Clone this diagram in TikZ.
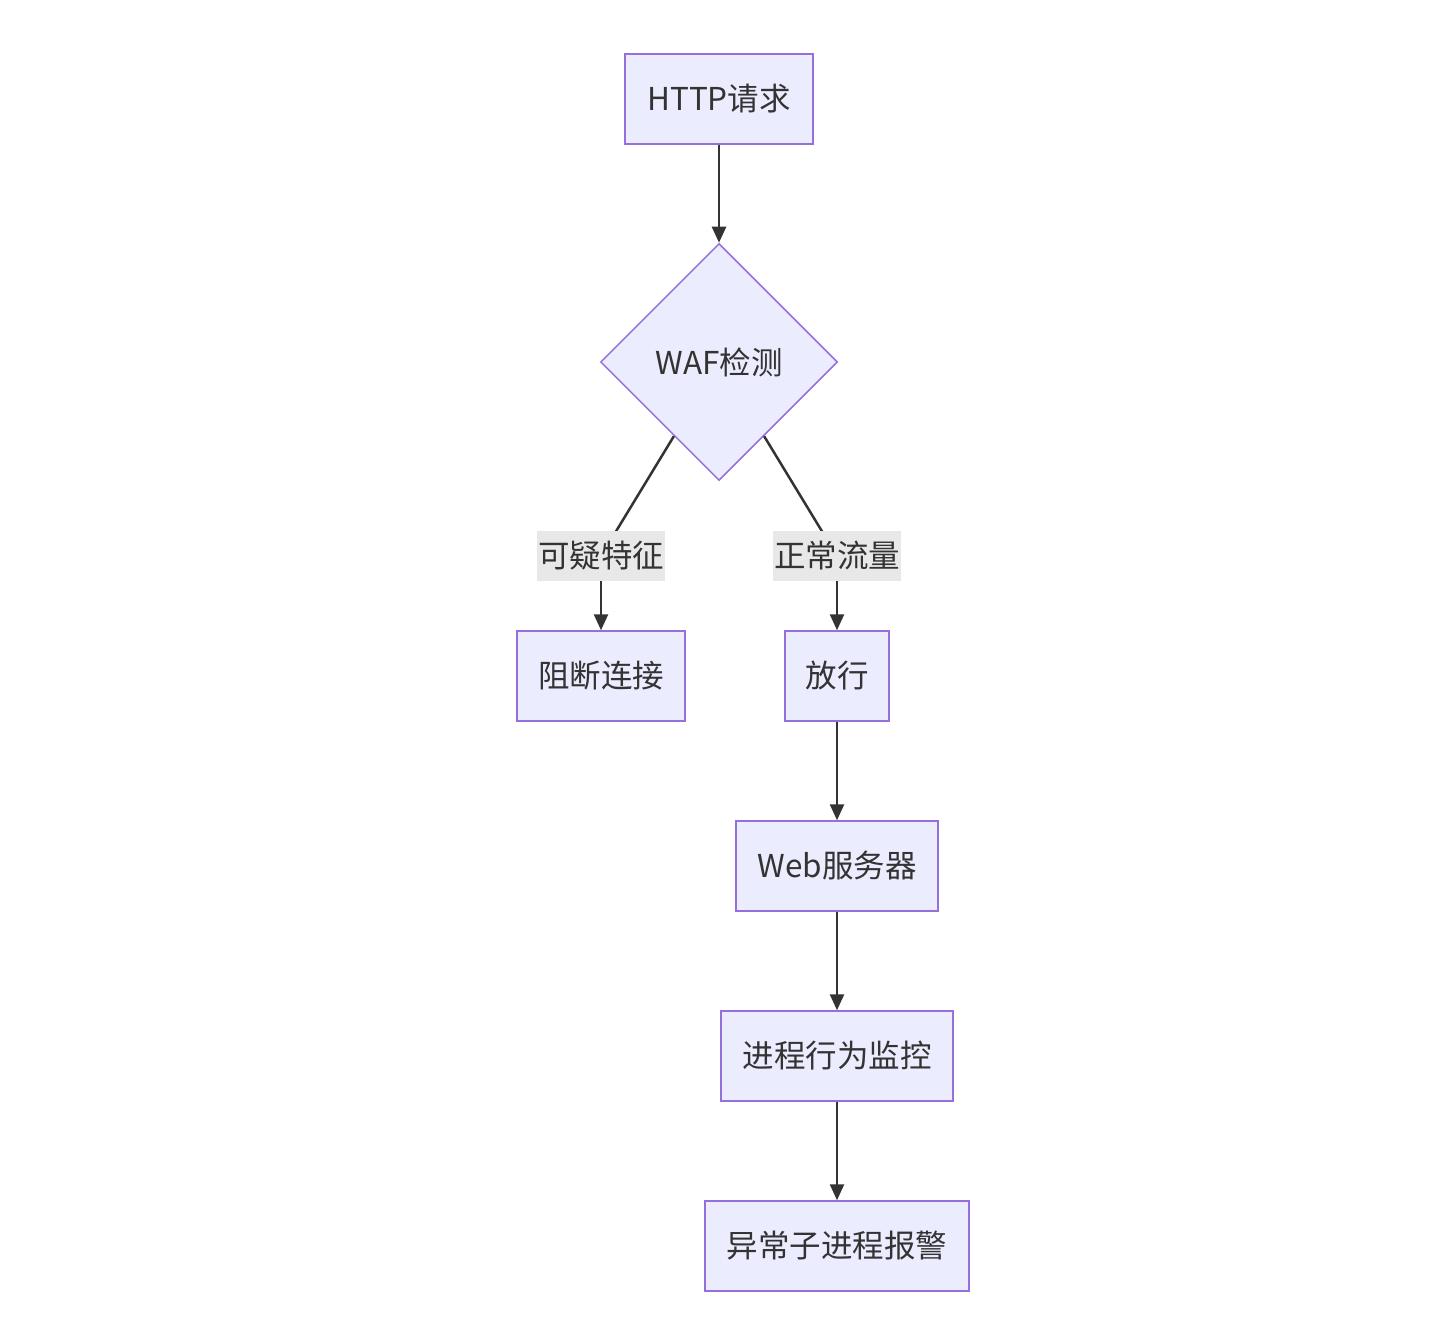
\documentclass[tikz,border=0pt]{standalone}
\usepackage{fontspec}
\setmainfont{Noto Sans CJK SC}
\usetikzlibrary{shapes.geometric,arrows.meta}
\definecolor{nodefill}{HTML}{ECECFF}
\definecolor{nodeline}{HTML}{9370DB}
\definecolor{edgecol}{HTML}{333333}
\definecolor{labelbg}{HTML}{E8E8E8}
\begin{document}
\begin{tikzpicture}[x=1pt,y=-1pt,
  font=\fontsize{31.5}{38}\selectfont,
  procbox/.style={draw=nodeline,fill=nodefill,line width=1.5pt,minimum height=90pt,inner sep=0pt,text=edgecol},
  decision/.style={diamond,aspect=1,draw=nodeline,fill=nodefill,line width=1.5pt,minimum width=237pt,minimum height=237pt,inner sep=0pt,text=edgecol},
  edgelabel/.style={fill=labelbg,minimum width=128pt,minimum height=50pt,inner sep=0pt,text=edgecol},
  flow/.style={draw=edgecol,line width=2.5pt,-{Triangle[length=16pt,width=14pt]}},
  plainflow/.style={draw=edgecol,line width=2.5pt}]
\useasboundingbox (0,0) rectangle (1450,1332);
\node[procbox,minimum width=188pt] (http) at (719,99) {HTTP请求};
\node[decision] (waf) at (719,362) {WAF检测};
\node[procbox,minimum width=168pt] (block) at (601,676) {阻断连接};
\node[procbox,minimum width=104pt] (pass) at (837,676) {放行};
\node[procbox,minimum width=202pt] (web) at (837,866) {Web服务器};
\node[procbox,minimum width=232pt] (mon) at (837,1056) {进程行为监控};
\node[procbox,minimum width=264pt] (alarm) at (837,1246) {异常子进程报警};
\draw[flow] (http) -- (waf);
\draw[plainflow] (waf) -- (601,556);
\draw[plainflow] (waf) -- (837,556);
\node[edgelabel] (l1) at (601,556) {可疑特征};
\node[edgelabel] (l2) at (837,556) {正常流量};
\draw[flow] (l1) -- (block);
\draw[flow] (l2) -- (pass);
\draw[flow] (pass) -- (web);
\draw[flow] (web) -- (mon);
\draw[flow] (mon) -- (alarm);
\end{tikzpicture}
\end{document}
